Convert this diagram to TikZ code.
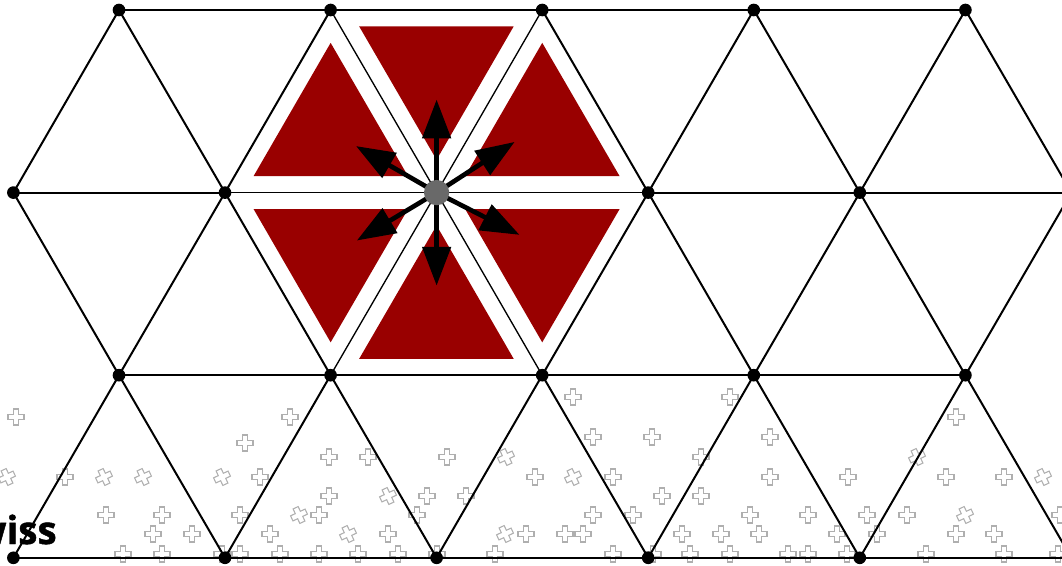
\documentclass[tikz,border=0pt]{standalone}
\usepackage{fontspec}
\usetikzlibrary{arrows.meta,calc}
\newfontfamily\wissfont[BoldFeatures={FakeBold=1.2}]{Open Sans}
\definecolor{tred}{RGB}{153,0,0}
\definecolor{cgray}{RGB}{105,105,105}
\definecolor{crossgray}{RGB}{175,175,175}
\tikzset{
 edge/.style={line width=1.5pt, black},
 thinedge/.style={line width=1pt, black},
 vdot/.style={circle, fill=black, minimum size=9.5pt, inner sep=0pt},
 cdot/.style={circle, fill=cgray, minimum size=19pt, inner sep=0pt},
 spoke/.style={line width=3.5pt, -{Triangle[length=29pt,width=21pt]}},
 redtri/.style={fill=tred},
 crossline/.style={draw=crossgray, line width=0.8pt},
 xcross/.pic={\draw[crossline] (-2.8,-8) -- (2.8,-8) -- (2.8,-2.8) -- (8,-2.8) -- (8,2.8) -- (2.8,2.8) -- (2.8,8) -- (-2.8,8) -- (-2.8,2.8) -- (-8,2.8) -- (-8,-2.8) -- (-2.8,-2.8) -- cycle;}
}
\newcommand\redtriangle[3]{%
 \coordinate (m) at ($(#1)!0.5!(#2)$);
 \coordinate (g) at ($(m)!1/3!(#3)$);
 \fill[redtri] ($(g)!0.73!(#1)$) -- ($(g)!0.73!(#2)$) -- ($(g)!0.73!(#3)$) -- cycle;}
\begin{document}
\begin{tikzpicture}[x=0.75pt,y=0.75pt]
\useasboundingbox (0,0) rectangle (1062,565);
% lattice vertices
\foreach \r in {0,...,3}{
 \foreach \k in {0,...,5}{
  \pgfmathsetmacro\xx{ifthenelse(mod(\r,2)==0,119,13.4)+\k*211.6}
  \pgfmathsetmacro\yy{555-\r*182.6}
  \coordinate (v-\r-\k) at (\xx,\yy);
 }
}
% crosses pattern
\foreach \x/\y/\a in {573/397/0,730/397/0,
 16/417/0,290/417/0,956/417/0,
 593/437/0,652/437/0,770/437/0,245/443/0,
 329/457/0,368/457/0,447/457/0,506/457/25,701/457/0,917/457/25,
 7/477/25,65/477/0,104/477/25,143/477/25,222/477/25,260/477/0,535/477/0,573/477/25,613/477/0,770/477/0,848/477/0,946/477/0,1004/477/0,1043/477/25,
 329/496/0,388/496/25,427/496/0,466/496/0,662/496/0,701/496/0,
 106/515/0,162/515/0,240/515/0,299/515/25,319/515/0,417/515/0,593/515/0,633/515/0,750/515/0,808/515/0,867/515/0,907/515/0,965/515/25,1060/515/0,
 153/534/0,192/534/0,270/534/0,348/534/25,388/534/0,505/534/25,526/534/0,565/534/0,583/534/0,682/534/0,721/534/0,759/534/0,837/534/0,877/534/0,956/534/0,994/534/0,
 123/554/0,162/554/0,222/554/0,240/554/0,280/554/0,319/554/0,358/554/0,398/554/0,437/554/0,495/554/0,613/554/0,653/554/0,690/554/0,730/554/0,788/554/0,808/554/0,847/554/0,926/554/0,1004/554/0,1058/554/0}
 {\pic[rotate=\a] at (\x,{565-\y}) {xcross};}
% text
\node[anchor=base east, inner sep=0pt] (wiss) at (57,21) {\wissfont\bfseries\fontsize{29}{29}\selectfont wiss};
% red triangles
\redtriangle{v-1-1}{v-1-2}{v-0-1}
\redtriangle{v-0-1}{v-0-2}{v-1-2}
\redtriangle{v-1-2}{v-1-3}{v-0-2}
\redtriangle{v-1-1}{v-1-2}{v-2-1}
\redtriangle{v-2-1}{v-2-2}{v-1-2}
\redtriangle{v-1-2}{v-1-3}{v-2-2}
% edges
\foreach \p/\q in {v-0-0/v-0-1,v-0-1/v-0-2,v-0-2/v-0-3,v-0-3/v-0-4,
 v-1-0/v-1-1,v-1-3/v-1-4,v-1-4/v-1-5,
 v-2-0/v-2-1,v-2-1/v-2-2,v-2-2/v-2-3,v-2-3/v-2-4,
 v-3-0/v-3-1,v-3-1/v-3-2,v-3-2/v-3-3,v-3-3/v-3-4,v-3-4/v-3-5,
 v-0-0/v-1-0,v-0-0/v-1-1,v-0-1/v-1-1,v-0-2/v-1-3,v-0-3/v-1-3,v-0-3/v-1-4,v-0-4/v-1-4,v-0-4/v-1-5,
 v-2-0/v-1-0,v-2-0/v-1-1,v-2-1/v-1-1,v-2-2/v-1-3,v-2-3/v-1-3,v-2-3/v-1-4,v-2-4/v-1-4,v-2-4/v-1-5,
 v-2-0/v-3-0,v-2-0/v-3-1,v-2-1/v-3-1,v-2-1/v-3-2,v-2-2/v-3-2,v-2-2/v-3-3,v-2-3/v-3-3,v-2-3/v-3-4,v-2-4/v-3-4,v-2-4/v-3-5}
 {\draw[edge] (\p) -- (\q);}
\foreach \p/\q in {v-1-1/v-1-2,v-1-2/v-1-3,v-0-1/v-1-2,v-0-2/v-1-2,v-2-1/v-1-2,v-2-2/v-1-2}
 {\draw[thinedge] (\p) -- (\q);}
% arrows
\foreach \ang in {90,270,33,150,211,333}{
 \path (v-1-2) ++(\ang:93) coordinate (tip\ang);
 \draw[spoke] (v-1-2) -- (tip\ang);
}
% dots
\foreach \r/\n in {0/4,1/5,2/4,3/5}{
 \foreach \k in {0,...,\n}{
  \ifnum\r=1 \ifnum\k=2 \else \node[vdot] (d-\r-\k) at (v-\r-\k) {};\fi
  \else \node[vdot] (d-\r-\k) at (v-\r-\k) {};\fi
 }
}
\node[cdot] (center) at (v-1-2) {};
\end{tikzpicture}
\end{document}
